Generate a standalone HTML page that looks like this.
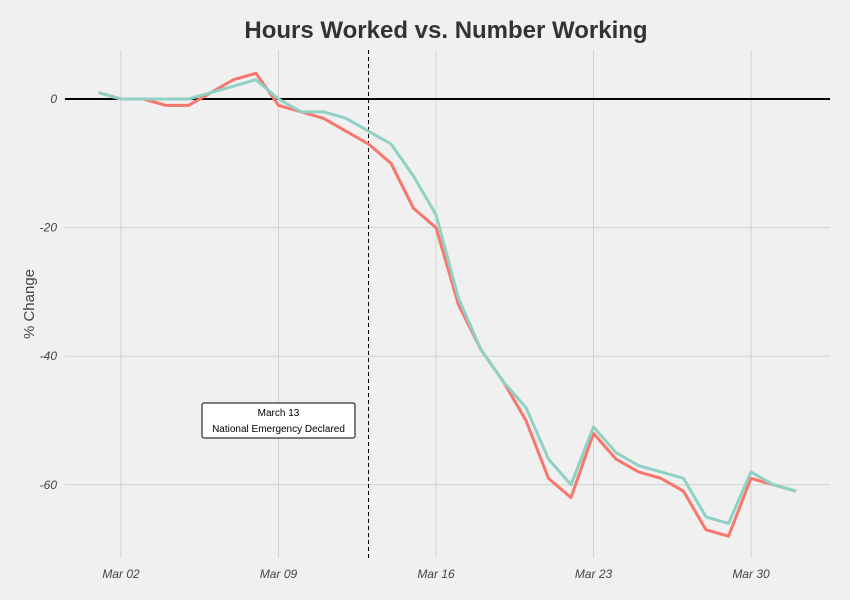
<!DOCTYPE html>
<html><head><meta charset="utf-8"><style>
body{margin:0;background:#f0f0f0;}
svg{display:block;font-family:"Liberation Sans",sans-serif;}
</style></head><body>
<svg id="c" width="850" height="600">
<rect width="850" height="600" fill="#f0f0f0"/>
<text x="446" y="38" text-anchor="middle" font-size="24" font-weight="bold" fill="#333">Hours Worked vs. Number Working</text>
<text transform="translate(34,304) rotate(-90)" text-anchor="middle" font-size="15" fill="#444">% Change</text>
<g id="grid"></g><g id="marks"></g>
</svg>
<script>
const days=[1,2,3,4,5,6,7,8,9,10,11,12,13,14,15,16,17,18,19,20,21,22,23,24,25,26,27,28,29,30,31,32];
const hoursWorked=[1,0,0,-1,-1,1,3,4,-1,-2,-3,-5,-7,-10,-17,-20,-32,-39,-44,-50,-59,-62,-52,-56,-58,-59,-61,-67,-68,-59,-60,-61];
const numberWorking=[1,0,0,0,0,1,2,3,0,-2,-2,-3,-5,-7,-12,-18,-31,-39,-44,-48,-56,-60,-51,-55,-57,-58,-59,-65,-66,-58,-60,-61];
const yTicks=[0,-20,-40,-60];
const xTickDays=[2,9,16,23,30];
const xTickLabels=["Mar 02","Mar 09","Mar 16","Mar 23","Mar 30"];
const eventDay=13;
const NS="http://www.w3.org/2000/svg";
const X=d=>121+(d-2)*22.5, Y=v=>99-v*6.43;
const g=document.getElementById('grid'), m=document.getElementById('marks');
function el(t,a,p){const e=document.createElementNS(NS,t);for(const k in a)e.setAttribute(k,a[k]);p.appendChild(e);return e;}
xTickDays.forEach((d,i)=>{
 const l=el('line',{x1:X(d),x2:X(d),y1:50,y2:558,stroke:'#d2d2d2','stroke-width':1},g);
 
 
 const t=el('text',{x:X(d),y:578,'text-anchor':'middle','font-size':12,'font-style':'italic',fill:'#444'},g);
 t.textContent=xTickLabels[i];
 
 
});
yTicks.forEach(v=>{
 const l=el('line',{x1:65,x2:830,y1:Y(v),y2:Y(v),stroke:'#d2d2d2','stroke-width':1},g);
 
 
 const t=el('text',{x:57,y:Y(v)+4,'text-anchor':'end','font-size':12,'font-style':'italic',fill:'#444'},g);
 t.textContent=v;
 
 
});
const z=el('line',{x1:65,x2:830,y1:Y(0),y2:Y(0),stroke:'#000','stroke-width':2},m);


const vl=el('line',{x1:X(eventDay),x2:X(eventDay),y1:50,y2:558,stroke:'#000','stroke-width':1,'stroke-dasharray':'4,3'},m);


function line(vals,col,name){
 const p=el('polyline',{points:vals.map((v,i)=>X(days[i])+','+Y(v)).join(' '),fill:'none',stroke:col,'stroke-width':3,'stroke-linejoin':'round'},m);
 
 
}
line(hoursWorked,'#f8766d','hours-worked-line');
line(numberWorking,'#8fd1c4','number-working-line');
const b=el('g',{},m);


el('rect',{x:202,y:403,width:153,height:35,rx:2,fill:'#fff',stroke:'#000','stroke-width':1},b);
const t1=el('text',{x:278.5,y:416,'text-anchor':'middle','font-size':10,fill:'#000'},b);t1.textContent='March 13';
const t2=el('text',{x:278.5,y:432,'text-anchor':'middle','font-size':10,fill:'#000'},b);t2.textContent='National Emergency Declared';
</script>
</body></html>
